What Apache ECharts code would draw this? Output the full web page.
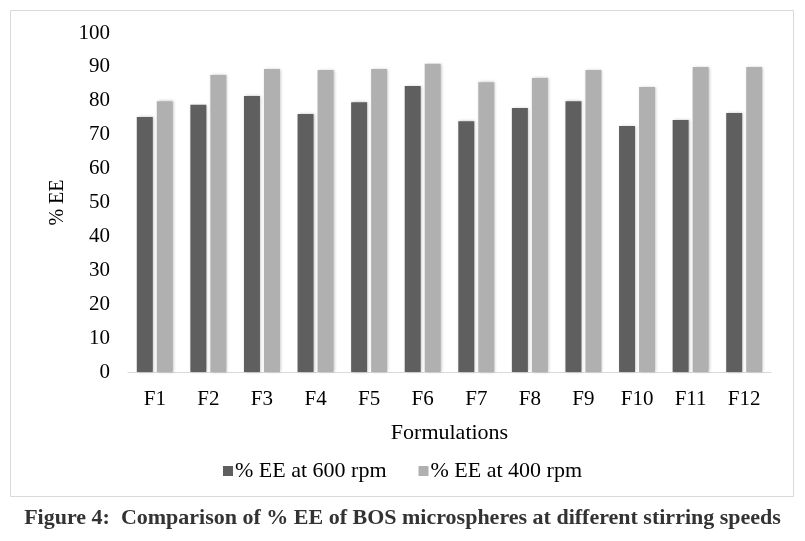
<!DOCTYPE html>
<html>
<head>
<meta charset="utf-8">
<script src="https://cdn.jsdelivr.net/npm/echarts@6/dist/echarts.min.js"></script>
<style>html,body{margin:0;padding:0;background:#fff}#c{width:805px;height:541px}</style>
</head>
<body>
<div id="c"></div>
<script>
const categories = ['F1','F2','F3','F4','F5','F6','F7','F8','F9','F10','F11','F12'];
const ee600 = [75.2, 78.8, 81.4, 76.1, 79.6, 84.4, 74.0, 77.9, 79.9, 72.6, 74.3, 76.4];
const ee400 = [79.9, 87.6, 89.4, 89.1, 89.4, 90.9, 85.5, 86.7, 89.1, 84.1, 90.0, 90.0];
const seriesNames = ['% EE at 600 rpm', '% EE at 400 rpm'];
const yTicks = [0, 10, 20, 30, 40, 50, 60, 70, 80, 90, 100];
const caption = 'Figure 4:  Comparison of % EE of BOS microspheres at different stirring speeds';

const font = '"Liberation Serif", "Times New Roman", serif';
const chart = echarts.init(document.getElementById('c'), null, {renderer: 'canvas'});
chart.setOption({
  animation: false,
  backgroundColor: '#fff',
  textStyle: {fontFamily: font},
  grid: {left: 128, right: 34, top: 33, bottom: 169, containLabel: false},
  graphic: [
    {type: 'rect', shape: {x: 10.5, y: 10.5, width: 783, height: 486}, style: {fill: 'none', stroke: '#d9d9d9', lineWidth: 1}, z: -1},
    {type: 'text', left: 'center', top: 507, style: {text: caption, font: 'bold 22px ' + font, fill: '#333'}}
  ],
  legend: {
    data: seriesNames,
    top: 455,
    left: 'center',
    itemWidth: 10, itemHeight: 10, itemGap: 32,
    icon: 'rect',
    textStyle: {fontFamily: font, fontSize: 22, color: '#000', padding: [0,0,0,-3]}
  },
  xAxis: {
    type: 'category',
    data: categories,
    name: 'Formulations',
    nameLocation: 'middle',
    nameGap: 50,
    nameTextStyle: {fontFamily: font, fontSize: 22, color: '#000'},
    axisLine: {lineStyle: {color: '#d9d9d9', width: 1}},
    axisTick: {show: false},
    axisLabel: {fontFamily: font, fontSize: 21, color: '#000', margin: 17}
  },
  yAxis: {
    type: 'value',
    min: yTicks[0], max: yTicks[yTicks.length-1], interval: 10,
    name: '% EE',
    nameLocation: 'middle',
    nameGap: 57,
    nameRotate: 90,
    nameTextStyle: {fontFamily: font, fontSize: 20, color: '#000'},
    axisLine: {show: false},
    axisTick: {show: false},
    splitLine: {show: false},
    axisLabel: {fontFamily: font, fontSize: 21, color: '#000', margin: 18}
  },
  series: [
    {name: seriesNames[0], type: 'bar', data: ee600, barWidth: 16, barGap: '25%',
     itemStyle: {color: '#5f5f5f', shadowColor: 'rgba(0,0,0,0.25)', shadowBlur: 3, shadowOffsetX: 1, shadowOffsetY: 0}},
    {name: seriesNames[1], type: 'bar', data: ee400, barWidth: 16,
     itemStyle: {color: '#b0b0b0', shadowColor: 'rgba(0,0,0,0.25)', shadowBlur: 3, shadowOffsetX: 1, shadowOffsetY: 0}}
  ]
});
</script>
</body>
</html>
